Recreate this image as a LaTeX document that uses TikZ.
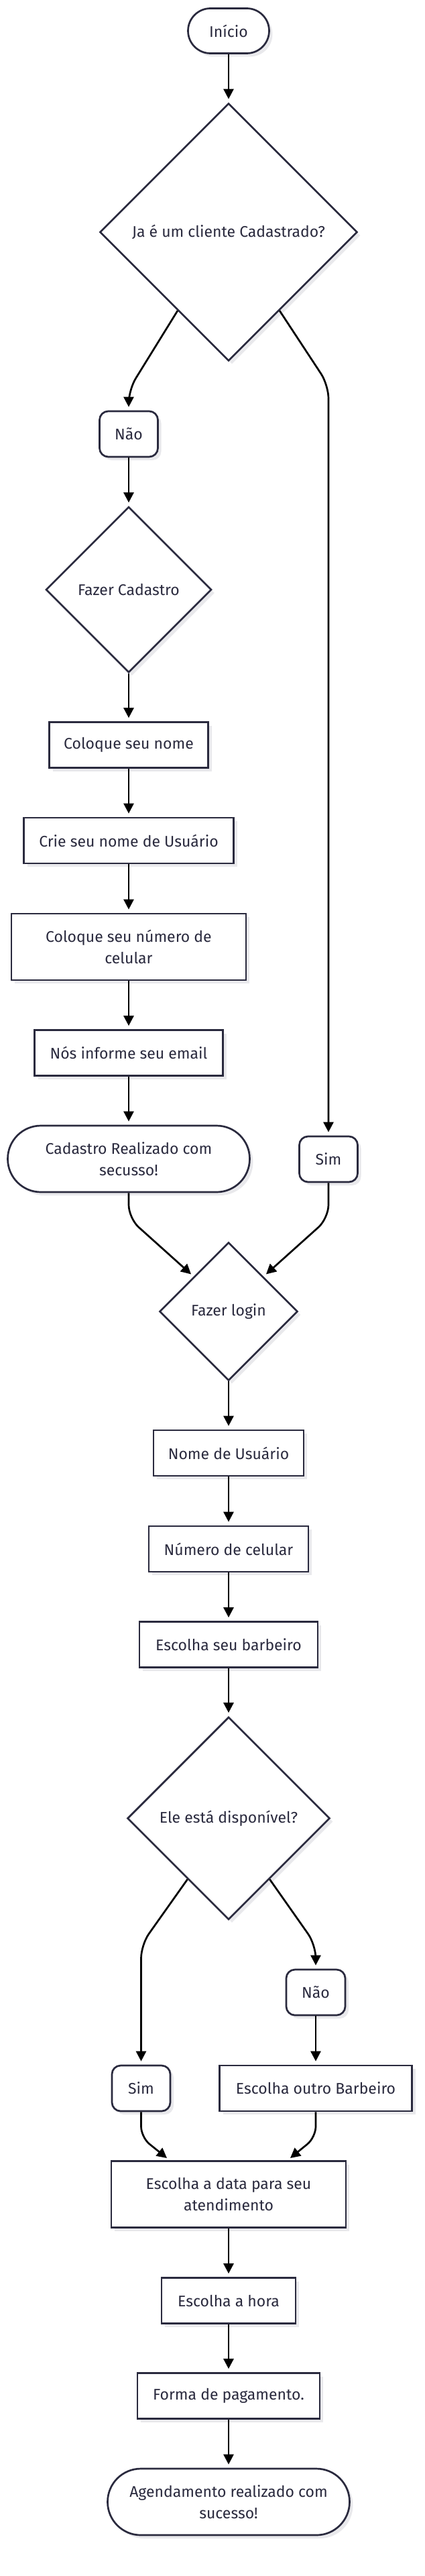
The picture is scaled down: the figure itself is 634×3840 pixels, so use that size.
\documentclass[tikz,border=0pt]{standalone}
\usepackage{fontspec}
\setmainfont{Fira Sans}
\usepackage{tikz}
\usetikzlibrary{arrows.meta,shapes.geometric,shadows}
\definecolor{ink}{RGB}{42,42,62}
\definecolor{shade}{RGB}{233,233,236}

\begin{document}
\begin{tikzpicture}[x=1pt,y=-1pt,
  font=\fontsize{23}{32}\selectfont,
  base/.style={draw=ink, line width=2.7pt, text=ink, fill=white, inner sep=0pt, align=center,
    drop shadow={shadow xshift=5pt, shadow yshift=-5pt, fill=shade, opacity=1}},
  box/.style={base, rectangle, minimum height=68pt},
  tallbox/.style={base, rectangle, minimum height=99pt, minimum width=350pt},
  answer/.style={base, rectangle, rounded corners=13pt, minimum height=68pt, minimum width=87pt},
  terminal/.style={base, rectangle, rounded corners=#1},
  decision/.style={base, diamond, aspect=1, minimum size=#1},
  flow/.style={-{Triangle[length=15pt,width=15pt]}, line width=2.7pt, shorten >=5pt, rounded corners=20pt}
]
\useasboundingbox (0,0) rectangle (634,3840);

% cadastro
\node[terminal=33.5pt, minimum width=121pt, minimum height=67pt] (inicio) at (341,46) {Início};
\node[decision=384pt] (cliente) at (341,346) {Ja é um cliente Cadastrado?};
\node[answer] (nao1) at (192,647) {Não};
\node[decision=247pt] (cadastro) at (192,879) {Fazer Cadastro};
\node[box, minimum width=237pt] (nome) at (192,1110.5) {Coloque seu nome};
\node[box, minimum width=313pt] (usuario) at (192,1253) {Crie seu nome de Usuário};
\node[tallbox] (celular) at (192,1411.5) {Coloque seu número de\\celular};
\node[box, minimum width=281pt] (email) at (192,1569.5) {Nós informe seu email};
\node[terminal=49.5pt, minimum width=361pt, minimum height=99pt] (cadok) at (192,1727.5) {Cadastro Realizado com\\secusso!};
\node[answer] (sim1) at (490,1728) {Sim};

% login e agendamento
\node[decision=206pt] (login) at (341,1955) {Fazer login};
\node[box, minimum width=224pt] (lnome) at (341,2166) {Nome de Usuário};
\node[box, minimum width=238pt] (lcel) at (341,2309) {Número de celular};
\node[box, minimum width=266pt] (barbeiro) at (341,2451.5) {Escolha seu barbeiro};
\node[decision=302pt] (livre) at (341,2710.5) {Ele está disponível?};
\node[answer, minimum width=88pt] (nao2) at (471,2970) {Não};
\node[answer] (sim2) at (210.5,3113) {Sim};
\node[box, minimum width=287pt] (outro) at (471,3113) {Escolha outro Barbeiro};
\node[tallbox] (data) at (341,3271) {Escolha a data para seu\\atendimento};
\node[box, minimum width=200pt] (hora) at (341,3429.5) {Escolha a hora};
\node[box, minimum width=272pt] (pagamento) at (341,3571.5) {Forma de pagamento.};
\node[terminal=49.5pt, minimum width=361pt, minimum height=99pt] (fim) at (341,3729.5) {Agendamento realizado com\\sucesso!};

% dobras
\coordinate (d1) at (192,581);
\coordinate (d2) at (490,574);
\coordinate (d3) at (192,1816);
\coordinate (d4) at (490,1816);
\coordinate (d5) at (210.5,2899);
\coordinate (d6) at (471,2899);
\coordinate (d7) at (210.5,3186);
\coordinate (d8) at (471,3186);

\draw[flow] (inicio) -- (cliente);
\draw[flow] (cliente.237) -- (d1) -- (nao1);
\draw[flow] (cliente.303) -- (d2) -- (sim1);
\draw[flow] (nao1) -- (cadastro);
\draw[flow] (cadastro) -- (nome);
\draw[flow] (nome) -- (usuario);
\draw[flow] (usuario) -- (celular);
\draw[flow] (celular) -- (email);
\draw[flow] (email) -- (cadok);
\draw[flow] (cadok) -- (d3) -- (login.135);
\draw[flow] (sim1) -- (d4) -- (login.45);
\draw[flow] (login) -- (lnome);
\draw[flow] (lnome) -- (lcel);
\draw[flow] (lcel) -- (barbeiro);
\draw[flow] (barbeiro) -- (livre);
\draw[flow] (livre.236) -- (d5) -- (sim2);
\draw[flow] (livre.304) -- (d6) -- (nao2);
\draw[flow] (nao2) -- (outro);
\draw[flow, rounded corners=16pt] (sim2) -- (d7) -- (data.150);
\draw[flow, rounded corners=16pt] (outro) -- (d8) -- (data.30);
\draw[flow] (data) -- (hora);
\draw[flow] (hora) -- (pagamento);
\draw[flow] (pagamento) -- (fim);
\end{tikzpicture}
\end{document}
